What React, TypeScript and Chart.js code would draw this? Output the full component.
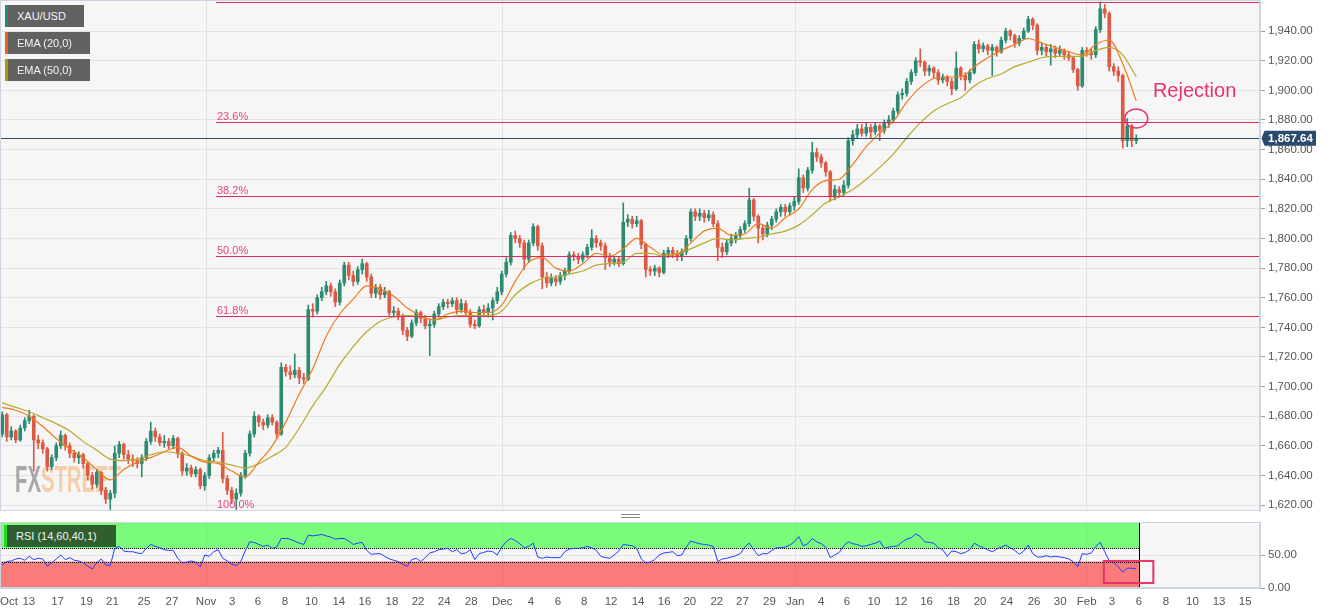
import React, { useEffect, useRef } from 'react';
import { Chart, registerables } from 'chart.js';

Chart.register(...registerables);

// ---------------- DATA ----------------
// 8-hour candles, XAU/USD (open = previous close)
const FIRST_OPEN = 1668;
const CLOSE = [
  1681, 1666, 1670, 1664, 1672, 1677, 1680, 1664, 1662, 1658,
  1646, 1652, 1660, 1667, 1660, 1655, 1652, 1654, 1648, 1640,
  1634, 1642, 1630, 1624, 1628, 1655, 1661, 1654, 1651, 1650,
  1648, 1652, 1663, 1670, 1666, 1662, 1663, 1660, 1665, 1655,
  1643, 1645, 1641, 1644, 1633, 1640, 1652, 1655, 1657, 1638,
  1630, 1624, 1628, 1640, 1655, 1668, 1680, 1676, 1674, 1679,
  1676, 1668, 1713, 1710, 1708, 1711, 1706, 1705, 1752, 1751,
  1760, 1764, 1768, 1764, 1757, 1770, 1782, 1775, 1771, 1779,
  1783, 1774, 1763, 1767, 1762, 1764, 1750, 1751, 1747, 1738,
  1734, 1743, 1750, 1746, 1741, 1742, 1749, 1754, 1757, 1756,
  1758, 1752, 1756, 1750, 1742, 1741, 1752, 1750, 1753, 1758,
  1764, 1776, 1784, 1802, 1800, 1797, 1786, 1797, 1808, 1795,
  1774, 1770, 1773, 1771, 1775, 1778, 1789, 1788, 1786, 1789,
  1794, 1800, 1797, 1795, 1787, 1784, 1786, 1783, 1811, 1813,
  1810, 1812, 1796, 1779, 1778, 1780, 1777, 1790, 1792, 1790,
  1788, 1791, 1800, 1818, 1815, 1817, 1814, 1816, 1810, 1794,
  1791, 1797, 1800, 1802, 1806, 1810, 1826, 1815, 1807, 1803,
  1809, 1813, 1818, 1821, 1818, 1822, 1825, 1841, 1834, 1846,
  1858, 1855, 1851, 1845, 1828, 1833, 1831, 1836, 1866, 1870,
  1874, 1871, 1875, 1872, 1876, 1873, 1878, 1880, 1886, 1897,
  1898, 1906, 1912, 1920, 1919, 1913, 1915, 1912, 1907, 1909,
  1906, 1901, 1915, 1910, 1907, 1912, 1931, 1928, 1930, 1927,
  1929, 1926, 1934, 1940, 1937, 1932, 1935, 1940, 1948, 1944,
  1927, 1929, 1926, 1928, 1925, 1927, 1924, 1922, 1914, 1903,
  1927, 1926, 1924, 1941, 1955, 1952, 1916, 1913, 1910, 1866,
  1876, 1866, 1867.64,
];
const HIGH = [
  1683, 1682, 1673, 1671, 1674, 1679, 1684, 1681, 1667, 1664,
  1659, 1654, 1662, 1670, 1668, 1662, 1657, 1656, 1655, 1649,
  1642, 1644, 1643, 1632, 1630, 1660, 1663, 1662, 1657, 1654,
  1652, 1654, 1665, 1676, 1672, 1668, 1667, 1665, 1667, 1666,
  1656, 1648, 1647, 1646, 1645, 1642, 1654, 1657, 1659, 1669,
  1640, 1632, 1631, 1642, 1657, 1670, 1683, 1681, 1678, 1681,
  1681, 1677, 1716, 1715, 1714, 1722, 1713, 1709, 1755, 1756,
  1762, 1767, 1771, 1770, 1766, 1772, 1784, 1784, 1778, 1781,
  1786, 1784, 1776, 1769, 1769, 1767, 1765, 1754, 1753, 1749,
  1740, 1745, 1752, 1751, 1748, 1745, 1751, 1756, 1759, 1759,
  1760, 1760, 1759, 1758, 1752, 1745, 1754, 1755, 1756, 1760,
  1767, 1778, 1787, 1804, 1805, 1802, 1799, 1799, 1810, 1809,
  1797, 1777, 1776, 1775, 1777, 1780, 1791, 1791, 1790, 1791,
  1796, 1806, 1802, 1799, 1797, 1790, 1788, 1788, 1824, 1816,
  1815, 1815, 1813, 1797, 1781, 1782, 1781, 1792, 1794, 1794,
  1792, 1793, 1802, 1820, 1820, 1820, 1819, 1819, 1818, 1812,
  1797, 1799, 1803, 1804, 1808, 1812, 1834, 1827, 1816, 1809,
  1811, 1815, 1820, 1823, 1823, 1824, 1828, 1847, 1843, 1848,
  1865, 1861, 1857, 1852, 1846, 1836, 1835, 1839, 1868, 1873,
  1877, 1877, 1878, 1877, 1878, 1877, 1880, 1883, 1888, 1899,
  1901, 1908, 1914, 1922, 1928, 1920, 1917, 1916, 1914, 1911,
  1910, 1908, 1926, 1916, 1912, 1914, 1933, 1934, 1932, 1931,
  1931, 1930, 1936, 1942, 1941, 1938, 1937, 1942, 1950, 1949,
  1945, 1932, 1931, 1931, 1930, 1930, 1928, 1926, 1923, 1915,
  1929, 1929, 1928, 1943, 1959.7, 1958, 1953, 1918, 1916, 1911,
  1881, 1877, 1870,
];
const LOW = [
  1666, 1663, 1664, 1662, 1663, 1670, 1675, 1643, 1658, 1655,
  1643, 1644, 1650, 1658, 1657, 1652, 1649, 1648, 1645, 1637,
  1631, 1632, 1627, 1621, 1617, 1625, 1652, 1651, 1648, 1646,
  1645, 1639, 1650, 1661, 1663, 1660, 1659, 1658, 1658, 1652,
  1640, 1640, 1639, 1639, 1631, 1630, 1638, 1650, 1652, 1635,
  1627, 1621, 1617, 1626, 1638, 1653, 1666, 1673, 1671, 1672,
  1674, 1665, 1667, 1707, 1705, 1706, 1702, 1702, 1704, 1747,
  1749, 1758, 1762, 1761, 1754, 1755, 1768, 1772, 1768, 1769,
  1776, 1771, 1760, 1760, 1759, 1760, 1748, 1747, 1745, 1735,
  1731, 1733, 1741, 1743, 1739, 1721, 1740, 1747, 1752, 1753,
  1754, 1749, 1750, 1748, 1740, 1739, 1740, 1748, 1747, 1745,
  1756, 1762, 1774, 1782, 1797, 1794, 1779, 1784, 1795, 1792,
  1766, 1767, 1768, 1768, 1769, 1772, 1776, 1785, 1783, 1784,
  1787, 1792, 1794, 1792, 1779, 1781, 1782, 1781, 1782, 1808,
  1807, 1808, 1793, 1774, 1775, 1775, 1774, 1776, 1787, 1787,
  1785, 1785, 1789, 1798, 1812, 1812, 1811, 1812, 1808, 1785,
  1787, 1789, 1795, 1797, 1800, 1804, 1808, 1812, 1797, 1799,
  1801, 1806, 1811, 1815, 1815, 1816, 1819, 1823, 1831, 1832,
  1844, 1852, 1848, 1842, 1825, 1826, 1828, 1829, 1834, 1863,
  1868, 1869, 1869, 1868, 1870, 1866, 1871, 1875, 1878, 1884,
  1894, 1896, 1904, 1910, 1916, 1910, 1910, 1908, 1904, 1905,
  1903, 1897, 1900, 1907, 1900, 1905, 1911, 1925, 1926, 1924,
  1910, 1923, 1925, 1932, 1934, 1929, 1930, 1934, 1939, 1941,
  1924, 1924, 1923, 1917, 1922, 1923, 1921, 1920, 1912, 1900,
  1902, 1923, 1921, 1922, 1939, 1949, 1913, 1910, 1906, 1861,
  1862, 1862, 1864,
];
// EMA values read every 3rd candle
const EMA_STEP = 3;
const EMA20 = [
  1686, 1684, 1680, 1673, 1665, 1658, 1652, 1644, 1637, 1644,
  1649, 1652, 1656, 1659, 1653, 1649, 1648, 1643, 1639, 1649,
  1660, 1676, 1695, 1712, 1734, 1749, 1759, 1768, 1766, 1761,
  1753, 1748, 1745, 1749, 1751, 1750, 1750, 1755, 1771, 1784,
  1787, 1780, 1778, 1783, 1790, 1788, 1793, 1800, 1794, 1789,
  1789, 1797, 1805, 1807, 1802, 1803, 1810, 1807, 1814, 1820,
  1833, 1839, 1840, 1850, 1862, 1871, 1879, 1892, 1902, 1908,
  1909, 1909, 1916, 1922, 1927, 1931, 1935, 1932, 1929, 1926,
  1924, 1931, 1934, 1918, 1893,
];
const EMA50 = [
  1689, 1686, 1683, 1679, 1675, 1670, 1663, 1657, 1651, 1650,
  1651, 1654, 1656, 1655, 1653, 1650, 1649, 1647, 1645, 1648,
  1653, 1659, 1672, 1687, 1700, 1715, 1727, 1737, 1744, 1747,
  1748, 1747, 1745, 1747, 1748, 1748, 1748, 1751, 1762, 1769,
  1773, 1774, 1776, 1778, 1782, 1783, 1784, 1790, 1790, 1788,
  1790, 1793, 1797, 1800, 1799, 1800, 1801, 1803, 1805, 1809,
  1816, 1824, 1828, 1833, 1840, 1848, 1857, 1868, 1878, 1886,
  1891, 1895, 1903, 1908, 1911, 1916, 1919, 1922, 1923, 1923,
  1923, 1927, 1929, 1924, 1909,
];
const RSI = [
  35, 40, 41, 44, 45, 42, 48, 43, 45, 44,
  33, 38, 44, 50, 43, 46, 42, 41, 38, 33,
  29, 38, 44, 35, 34, 60, 63, 56, 55, 55,
  53, 52, 60, 66, 63, 61, 58, 57, 57, 45,
  38, 39, 41, 39, 32, 50, 48, 55, 58, 45,
  41, 36, 34, 40, 56, 70, 69, 66, 63, 65,
  60, 62, 75, 75, 74, 71, 68, 66, 80, 79,
  80, 81, 79, 77, 74, 75, 75, 71, 66, 68,
  69, 57, 51, 52, 52, 48, 44, 42, 40, 36,
  33, 43, 45, 40, 46, 53, 55, 58, 59, 60,
  55, 58, 52, 53, 58, 43, 52, 54, 56, 55,
  50, 62, 70, 75, 72, 67, 61, 63, 68, 47,
  45, 47, 46, 46, 46, 55, 59, 60, 60, 61,
  63, 61, 57, 48, 46, 45, 50, 56, 66, 65,
  64, 60, 44, 38, 39, 43, 50, 53, 54, 55,
  49, 50, 62, 71, 69, 67, 66, 65, 63, 40,
  44, 45, 47, 49, 52, 62, 68, 58, 49, 52,
  52, 57, 61, 61, 62, 65, 70, 78, 64, 67,
  75, 70, 67, 62, 46, 50, 54, 64, 70, 67,
  66, 63, 64, 66, 68, 71, 60, 62, 63, 64,
  70, 74, 76, 82, 78, 70, 69, 68, 61, 58,
  48, 56, 55, 52, 54, 58, 68, 64, 61, 58,
  55, 59, 62, 65, 61, 57, 51, 56, 65, 52,
  47, 47, 49, 47, 48, 47, 46, 44, 40, 32,
  52, 51, 53, 63, 69, 55, 41, 39, 32, 24,
  30, 30, 29,
];
const RSI_UPPER = 60;
const RSI_LOWER = 40;
const RSI_TICKS = [0, 50];
const PRICE_TICKS = [1620, 1640, 1660, 1680, 1700, 1720, 1740, 1760, 1780, 1800, 1820, 1840, 1860, 1880, 1900, 1920, 1940];
const TICK_LABELS = ['Oct', '13', '17', '19', '21', '25', '27', 'Nov', '3', '6', '8', '10', '14', '16', '18', '22', '24', '28', 'Dec', '4', '6', '8', '12', '14', '16', '20', '22', '27', '29', 'Jan', '4', '6', '10', '12', '16', '18', '20', '24', '26', '30', 'Feb', '3', '6', '8', '10', '13', '15'];
// candle index where each date label sits
const TICK_POS = [1.5, 5.9, 12.3, 18.7, 24.5, 31.5, 37.7, 45.3, 51.1, 56.8, 62.8, 68.7, 74.8, 80.6, 86.6, 92.4, 98.2, 104.2, 111.1, 117.5, 123.5, 129.3, 135.3, 141.3, 147.1, 152.8, 158.8, 164.5, 170.5, 176.2, 182, 187.7, 193.7, 199.7, 205.4, 211.4, 217.3, 223.2, 229.3, 235.1, 241, 246.6, 252.6, 258.6, 264.5, 270.4, 276.2];
const MONTH_GRID = ['Nov', 'Dec', 'Jan', 'Feb'];
const X_SLOTS = 280;
const FIB_HIGH = 1959.7;
const FIB_LOW = 1617.0;
const FIB_RATIOS = [0, 0.236, 0.382, 0.5, 0.618, 1];
const FIB_START = 47.5;
const REJECTION = { x: 255.7, y: 1895.5, text: 'Rejection' };
const REJECT_CIRCLE = { x: 252, y: 1881 };
const RSI_BOX = { x0: 244.8, x1: 255.8, y0: 7.5, y1: 41 };

// ---------------- STYLE ----------------
const FONT = '"Liberation Sans", Arial, Helvetica, sans-serif';
const UP = '#2e8b73';
const DOWN = '#dc5a44';
const EMA20_COLOR = '#f27a1a';
const EMA50_COLOR = '#b9aa2c';
const GRID = '#e3e3e3';
const PANEL_BG = '#f6f6f6';
const AXIS_BORDER = '#cdd4e1';
const FIB_COLOR = '#dc2b62';
const FIB_TEXT = '#e5457a';
const NAVY = '#2c4a6e';
const ANNOT = '#e8336a';
const RSI_LINE = '#1f3dff';
const TICK_TEXT = '#555555';
const W = 1331;
const MAIN_H = 516;
const RSI_H = 99;
const AXIS_W = 71;

const fmt = (v: number) =>
  Number(v).toLocaleString('en-US', { minimumFractionDigits: 2, maximumFractionDigits: 2 });

const monthGrid = (ctx: any) =>
  MONTH_GRID.includes(TICK_LABELS[ctx.index]) ? GRID : 'rgba(0,0,0,0)';

const panelPlugin = {
  id: 'panelBg',
  beforeDraw(chart: any) {
    const { ctx, chartArea: a } = chart;
    ctx.save();
    ctx.fillStyle = PANEL_BG;
    ctx.fillRect(a.left, a.top, a.right - a.left, a.bottom - a.top);
    ctx.restore();
  },
  afterDraw(chart: any) {
    const { ctx, chartArea: a } = chart;
    ctx.save();
    ctx.strokeStyle = AXIS_BORDER;
    ctx.lineWidth = 1;
    ctx.strokeRect(a.left + 0.5, a.top + 0.5, a.right - a.left - 1, a.bottom - a.top - 1);
    ctx.restore();
  },
};

export default function App() {
  const mainRef = useRef<HTMLCanvasElement>(null);
  const rsiRef = useRef<HTMLCanvasElement>(null);

  useEffect(() => {
    Chart.defaults.font.family = FONT;
    const OPEN = CLOSE.map((c, i) => (i === 0 ? FIRST_OPEN : CLOSE[i - 1]));
    const colors = CLOSE.map((c, i) => (c >= OPEN[i] ? UP : DOWN));
    const last = CLOSE[CLOSE.length - 1];

    const mainPlugin = {
      id: 'mainAnnot',
      beforeDatasetsDraw(chart: any) {
        const { ctx, chartArea: a } = chart;
        ctx.save();
        ctx.font = `bold 37px ${FONT}`;
        const wFX = ctx.measureText('FX').width;
        const wST = ctx.measureText('STREET').width;
        const sx = 106 / (wFX + wST);
        ctx.translate(a.left + 15, a.top + 492);
        ctx.scale(sx, 1);
        ctx.textBaseline = 'alphabetic';
        ctx.fillStyle = 'rgba(70,70,82,0.45)';
        ctx.fillText('FX', 0, 0);
        ctx.fillStyle = 'rgba(245,160,80,0.45)';
        ctx.fillText('STREET', wFX, 0);
        ctx.restore();
      },
      afterDatasetsDraw(chart: any) {
        const { ctx, chartArea: a, scales } = chart;
        const x = scales.x;
        const y = scales.y;
        ctx.save();
        const range = FIB_HIGH - FIB_LOW;
        const x0 = x.getPixelForValue(FIB_START);
        FIB_RATIOS.forEach((r) => {
          const v = FIB_HIGH - r * range;
          const py = Math.round(y.getPixelForValue(v)) + 0.5;
          ctx.strokeStyle = FIB_COLOR;
          ctx.lineWidth = 1;
          ctx.beginPath();
          ctx.moveTo(x0, py);
          ctx.lineTo(a.right, py);
          ctx.stroke();
          ctx.font = `11px ${FONT}`;
          ctx.fillStyle = FIB_TEXT;
          ctx.textAlign = 'left';
          ctx.textBaseline = 'alphabetic';
          ctx.fillText((r * 100).toFixed(1) + '%', x0 + 1, py - 2.5);
        });
        const ly = Math.round(y.getPixelForValue(last)) + 0.5;
        ctx.strokeStyle = NAVY;
        ctx.lineWidth = 1;
        ctx.beginPath();
        ctx.moveTo(a.left, ly);
        ctx.lineTo(a.right, ly);
        ctx.stroke();
        ctx.strokeStyle = ANNOT;
        ctx.lineWidth = 1.5;
        ctx.beginPath();
        ctx.ellipse(x.getPixelForValue(REJECT_CIRCLE.x), y.getPixelForValue(REJECT_CIRCLE.y), 11.5, 9.5, 0, 0, Math.PI * 2);
        ctx.stroke();
        ctx.fillStyle = ANNOT;
        ctx.font = `20px ${FONT}`;
        ctx.textAlign = 'left';
        ctx.fillText(REJECTION.text, x.getPixelForValue(REJECTION.x), y.getPixelForValue(REJECTION.y));
        ctx.restore();
      },
      afterDraw(chart: any) {
        const { ctx, chartArea: a, scales } = chart;
        const y = scales.y;
        const ly = y.getPixelForValue(last);
        const r = a.right;
        ctx.save();
        ctx.fillStyle = NAVY;
        ctx.beginPath();
        ctx.moveTo(r + 1.5, ly);
        ctx.lineTo(r + 4.5, ly - 7.5);
        ctx.lineTo(r + 56, ly - 7.5);
        ctx.lineTo(r + 56, ly + 7.5);
        ctx.lineTo(r + 4.5, ly + 7.5);
        ctx.closePath();
        ctx.fill();
        ctx.fillStyle = '#ffffff';
        ctx.font = `bold 11.5px ${FONT}`;
        ctx.textAlign = 'center';
        ctx.textBaseline = 'middle';
        ctx.fillText(fmt(last), r + 30.5, ly + 0.5);
        ctx.restore();
      },
    };

    const main = new Chart(mainRef.current as HTMLCanvasElement, {
      type: 'bar',
      data: {
        datasets: [
          {
            type: 'bar',
            data: CLOSE.map((c, i) => ({ x: i, y: [Math.min(LOW[i], OPEN[i], c), Math.max(HIGH[i], OPEN[i], c)] })),
            backgroundColor: colors,
            barThickness: 1,
            grouped: false,
            order: 3,
          } as any,
          {
            type: 'bar',
            data: CLOSE.map((c, i) => ({ x: i, y: [OPEN[i], c] })),
            backgroundColor: colors,
            barThickness: 3,
            minBarLength: 1,
            grouped: false,
            order: 2,
          } as any,
          {
            type: 'line',
            data: EMA50.map((v, k) => ({ x: k * EMA_STEP, y: v })),
            borderColor: EMA50_COLOR,
            borderWidth: 1.2,
            pointRadius: 0,
            cubicInterpolationMode: 'monotone',
            order: 1,
          } as any,
          {
            type: 'line',
            data: EMA20.map((v, k) => ({ x: k * EMA_STEP, y: v })),
            borderColor: EMA20_COLOR,
            borderWidth: 1.2,
            pointRadius: 0,
            cubicInterpolationMode: 'monotone',
            order: 0,
          } as any,
        ],
      },
      options: {
        responsive: false,
        devicePixelRatio: 1,
        animation: false,
        events: [],
        layout: { padding: { left: 0, right: 0, top: 0, bottom: 5 } },
        plugins: { legend: { display: false }, tooltip: { enabled: false } },
        scales: {
          x: {
            type: 'linear',
            min: -0.5,
            max: X_SLOTS - 0.5,
            offset: false,
            afterBuildTicks: (s: any) => {
              s.ticks = TICK_POS.map((v) => ({ value: v }));
            },
            ticks: { display: false, autoSkip: false },
            grid: { offset: false, drawTicks: false, color: monthGrid },
            border: { display: false },
            afterFit: (s: any) => {
              s.height = 0;
              s.paddingLeft = 0;
              s.paddingRight = 0;
            },
          },
          y: {
            type: 'linear',
            position: 'right',
            min: 1616,
            max: 1961,
            afterBuildTicks: (s: any) => {
              s.ticks = PRICE_TICKS.map((v) => ({ value: v }));
            },
            ticks: {
              autoSkip: false,
              callback: (v: any) => fmt(v),
              color: TICK_TEXT,
              font: { size: 11.5 },
              padding: 3,
            },
            grid: { color: GRID, tickColor: '#9a9a9a', tickLength: 5 },
            border: { display: true, color: AXIS_BORDER },
            afterFit: (s: any) => {
              s.width = AXIS_W;
              s.paddingTop = 0;
              s.paddingBottom = 0;
            },
          },
        },
      } as any,
      plugins: [panelPlugin, mainPlugin],
    });

    const rsiPlugin = {
      id: 'rsiZones',
      beforeDatasetsDraw(chart: any) {
        const { ctx, chartArea: a, scales } = chart;
        const x = scales.x;
        const y = scales.y;
        const xe = Math.round(x.getPixelForValue(CLOSE.length - 0.5)) + 0.5;
        const y100 = y.getPixelForValue(100);
        const yU = y.getPixelForValue(RSI_UPPER);
        const yL = y.getPixelForValue(RSI_LOWER);
        const y0 = y.getPixelForValue(0);
        ctx.save();
        ctx.fillStyle = 'rgba(0,255,0,0.5)';
        ctx.fillRect(a.left, y100, xe - a.left, yU - y100);
        ctx.fillStyle = 'rgba(255,0,0,0.5)';
        ctx.fillRect(a.left, yL, xe - a.left, y0 - yL);
        ctx.strokeStyle = '#000000';
        ctx.lineWidth = 1;
        ctx.setLineDash([1, 1]);
        [yU, yL].forEach((py) => {
          const p = Math.round(py) + 0.5;
          ctx.beginPath();
          ctx.moveTo(a.left, p);
          ctx.lineTo(xe, p);
          ctx.stroke();
        });
        ctx.setLineDash([]);
        ctx.beginPath();
        ctx.moveTo(xe, y100);
        ctx.lineTo(xe, y0);
        ctx.stroke();
        ctx.restore();
      },
      afterDatasetsDraw(chart: any) {
        const { ctx, scales } = chart;
        const x = scales.x;
        const y = scales.y;
        const px0 = x.getPixelForValue(RSI_BOX.x0);
        const px1 = x.getPixelForValue(RSI_BOX.x1);
        const py0 = y.getPixelForValue(RSI_BOX.y1);
        const py1 = y.getPixelForValue(RSI_BOX.y0);
        ctx.save();
        ctx.strokeStyle = ANNOT;
        ctx.lineWidth = 2;
        ctx.strokeRect(px0, py0, px1 - px0, py1 - py0);
        ctx.restore();
      },
    };

    const rsi = new Chart(rsiRef.current as HTMLCanvasElement, {
      type: 'line',
      data: {
        datasets: [
          {
            data: RSI.map((v, i) => ({ x: i, y: v })),
            borderColor: RSI_LINE,
            borderWidth: 1,
            pointRadius: 0,
            tension: 0,
          },
        ],
      },
      options: {
        responsive: false,
        devicePixelRatio: 1,
        animation: false,
        events: [],
        layout: { padding: { left: 0, right: 0, top: 6, bottom: 0 } },
        plugins: { legend: { display: false }, tooltip: { enabled: false } },
        scales: {
          x: {
            type: 'linear',
            min: -0.5,
            max: X_SLOTS - 0.5,
            offset: false,
            afterBuildTicks: (s: any) => {
              s.ticks = TICK_POS.map((v) => ({ value: v }));
            },
            ticks: {
              autoSkip: false,
              maxRotation: 0,
              minRotation: 0,
              callback: (v: any, i: number) => TICK_LABELS[i],
              color: TICK_TEXT,
              font: { size: 11.5 },
              padding: 7,
            },
            grid: { offset: false, drawTicks: false, color: monthGrid },
            border: { display: true, color: AXIS_BORDER },
            afterFit: (s: any) => {
              s.height = 27;
              s.paddingLeft = 0;
              s.paddingRight = 0;
            },
          },
          y: {
            type: 'linear',
            position: 'right',
            min: 0,
            max: 100,
            afterBuildTicks: (s: any) => {
              s.ticks = RSI_TICKS.map((v) => ({ value: v }));
            },
            ticks: {
              autoSkip: false,
              callback: (v: any) => fmt(v),
              color: TICK_TEXT,
              font: { size: 11.5 },
              padding: 3,
            },
            grid: { color: GRID, tickColor: '#9a9a9a', tickLength: 5 },
            border: { display: true, color: AXIS_BORDER },
            afterFit: (s: any) => {
              s.width = AXIS_W;
              s.paddingTop = 0;
              s.paddingBottom = 0;
            },
          },
        },
      } as any,
      plugins: [panelPlugin, rsiPlugin],
    });

    return () => {
      main.destroy();
      rsi.destroy();
    };
  }, []);

  const box = (top: number, width: number, strip: string, bg: string, text: string, left = 5) => (
    <div
      style={{
        position: 'absolute',
        left,
        top,
        width,
        height: 22,
        boxSizing: 'border-box',
        background: bg,
        borderLeft: `3px solid ${strip}`,
        color: '#f4f4f4',
        font: `11px ${FONT}`,
        lineHeight: '22px',
        paddingLeft: 9,
        whiteSpace: 'nowrap',
      }}
    >
      {text}
    </div>
  );

  return (
    <div
      style={{
        position: 'absolute',
        left: 0,
        top: 0,
        width: W,
        height: MAIN_H + RSI_H,
        background: '#ffffff',
        overflow: 'hidden',
      }}
    >
      <canvas ref={mainRef} width={W} height={MAIN_H} style={{ position: 'absolute', left: 0, top: 0 }} />
      <canvas ref={rsiRef} width={W} height={RSI_H} style={{ position: 'absolute', left: 0, top: MAIN_H }} />
      {box(5, 79, '#2a8a6e', '#616161', 'XAU/USD')}
      {box(32, 85, '#e3641a', '#616161', 'EMA (20,0)')}
      {box(59, 85, '#aa9a0a', '#616161', 'EMA (50,0)')}
      {box(525, 112, '#22d822', '#2f5e2f', 'RSI (14,60,40,1)', 4)}
      <div style={{ position: 'absolute', left: 621, top: 514, width: 19, height: 1, background: '#8c8c8c' }} />
      <div style={{ position: 'absolute', left: 621, top: 517, width: 19, height: 1, background: '#8c8c8c' }} />
    </div>
  );
}
